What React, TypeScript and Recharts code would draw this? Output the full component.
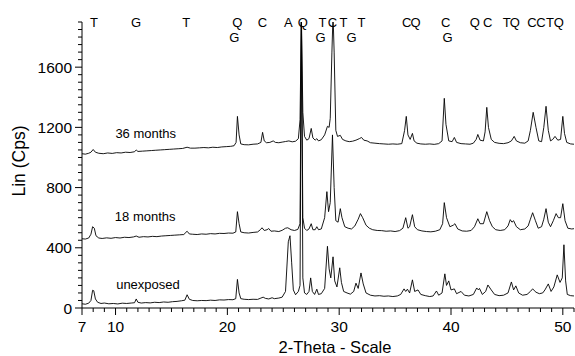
import { LineChart, Line, XAxis, YAxis, ReferenceDot } from 'recharts';

const FONT = '"Liberation Sans", Arial, Helvetica, sans-serif';
const INK = '#000';

// 2-theta (deg) vs Lin (Cps)
const unexposed: [number, number][] = [
  [7.0, 28], [7.3, 25], [7.6, 32], [7.8, 50], [7.95, 118], [8.05, 115], [8.2, 60], [8.4, 38],
  [8.7, 30], [9.0, 33], [9.4, 28], [9.8, 30], [10.2, 27], [10.6, 32], [11.0, 30], [11.4, 33],
  [11.7, 35], [11.85, 60], [12.0, 38], [12.3, 33], [12.7, 36], [13.1, 34], [13.5, 38], [13.9, 36],
  [14.3, 40], [14.7, 38], [15.1, 42], [15.5, 44], [15.9, 48], [16.2, 52], [16.4, 88], [16.6, 58],
  [16.9, 50], [17.3, 48], [17.7, 50], [18.1, 49], [18.5, 52], [18.9, 50], [19.3, 54], [19.7, 53],
  [20.1, 56], [20.5, 55], [20.75, 62], [20.9, 190], [21.05, 100], [21.2, 62], [21.5, 58], [21.9, 56],
  [22.3, 58], [22.7, 57], [23.0, 66], [23.2, 72], [23.4, 64], [23.7, 60], [24.0, 68], [24.2, 62],
  [24.6, 66], [24.9, 72], [25.2, 110], [25.45, 440], [25.6, 480], [25.75, 300], [25.9, 120], [26.1, 88],
  [26.35, 110], [26.5, 150], [26.62, 1950], [26.75, 200], [26.9, 100], [27.1, 90], [27.3, 110], [27.45, 200],
  [27.6, 110], [27.8, 90], [28.0, 125], [28.15, 90], [28.4, 95], [28.7, 130], [28.95, 410], [29.1, 260],
  [29.25, 200], [29.45, 340], [29.6, 180], [29.8, 140], [30.05, 267], [30.2, 170], [30.4, 110], [30.7, 100],
  [31.0, 92], [31.3, 110], [31.5, 165], [31.7, 130], [31.95, 233], [32.15, 160], [32.4, 100], [32.8, 85],
  [33.2, 80], [33.6, 82], [34.0, 78], [34.4, 80], [34.8, 76], [35.2, 80], [35.5, 90], [35.8, 127],
  [35.95, 110], [36.1, 125], [36.3, 100], [36.55, 187], [36.75, 110], [37.05, 120], [37.3, 90], [37.7, 82],
  [38.1, 76], [38.4, 80], [38.7, 113], [38.9, 85], [39.2, 100], [39.45, 227], [39.6, 150], [39.8, 180],
  [40.0, 120], [40.3, 127], [40.5, 95], [40.9, 110], [41.2, 85], [41.6, 80], [42.0, 90], [42.3, 133],
  [42.45, 120], [42.55, 130], [42.8, 90], [43.1, 110], [43.3, 153], [43.6, 120], [43.9, 90], [44.3, 82],
  [44.7, 85], [45.1, 100], [45.4, 173], [45.6, 120], [45.8, 147], [46.05, 100], [46.4, 85], [46.8, 90],
  [47.1, 110], [47.3, 127], [47.6, 105], [47.9, 95], [48.2, 100], [48.4, 120], [48.7, 160], [48.95, 110],
  [49.2, 140], [49.5, 220], [49.75, 170], [49.95, 200], [50.1, 420], [50.25, 180], [50.4, 90], [50.7, 82],
  [51.0, 80],
];

const months18: [number, number][] = [
  [7.0, 460], [7.3, 458], [7.6, 465], [7.8, 490], [7.95, 540], [8.1, 530], [8.25, 480], [8.5, 465],
  [8.8, 462], [9.2, 466], [9.6, 463], [10.0, 468], [10.4, 465], [10.8, 470], [11.2, 468], [11.6, 472],
  [11.85, 478], [12.1, 470], [12.5, 474], [12.9, 472], [13.3, 476], [13.7, 474], [14.1, 478], [14.5, 480],
  [14.9, 482], [15.3, 484], [15.7, 486], [16.1, 488], [16.4, 510], [16.6, 492], [16.9, 490], [17.3, 488],
  [17.7, 492], [18.1, 490], [18.5, 494], [18.9, 492], [19.3, 496], [19.7, 495], [20.1, 498], [20.5, 497],
  [20.75, 505], [20.9, 640], [21.05, 560], [21.2, 505], [21.5, 500], [21.9, 498], [22.3, 502], [22.7, 505],
  [22.95, 520], [23.1, 533], [23.3, 515], [23.55, 520], [23.7, 528], [23.9, 510], [24.2, 512], [24.6, 508],
  [24.9, 516], [25.2, 530], [25.4, 533], [25.7, 520], [26.0, 515], [26.3, 522], [26.5, 560], [26.62, 1950],
  [26.75, 600], [26.9, 530], [27.1, 515], [27.3, 525], [27.5, 560], [27.65, 520], [27.85, 520], [28.0, 540],
  [28.15, 520], [28.4, 525], [28.7, 600], [28.9, 773], [29.05, 640], [29.2, 700], [29.4, 1150], [29.55, 800],
  [29.7, 580], [29.9, 570], [30.1, 660], [30.25, 600], [30.5, 540], [30.8, 530], [31.1, 525], [31.4, 545],
  [31.7, 590], [31.9, 627], [32.1, 600], [32.4, 550], [32.7, 530], [33.0, 520], [33.4, 515], [33.8, 514],
  [34.2, 510], [34.6, 512], [35.0, 508], [35.4, 514], [35.7, 530], [35.95, 600], [36.15, 530], [36.3, 540],
  [36.55, 620], [36.75, 540], [37.0, 520], [37.4, 512], [37.8, 508], [38.2, 506], [38.6, 510], [39.0, 520],
  [39.25, 560], [39.4, 700], [39.6, 600], [39.9, 540], [40.2, 550], [40.35, 560], [40.6, 525], [41.0, 512],
  [41.4, 510], [41.8, 515], [42.1, 540], [42.4, 593], [42.6, 560], [42.9, 560], [43.2, 640], [43.45, 580],
  [43.7, 540], [44.0, 520], [44.4, 515], [44.8, 520], [45.1, 545], [45.3, 587], [45.45, 570], [45.6, 580],
  [45.85, 540], [46.2, 520], [46.6, 525], [46.9, 545], [47.1, 590], [47.3, 633], [47.55, 580], [47.8, 530],
  [48.1, 540], [48.3, 590], [48.5, 660], [48.7, 570], [48.9, 540], [49.15, 580], [49.4, 627], [49.6, 600],
  [49.8, 600], [50.0, 693], [50.2, 580], [50.45, 530], [50.8, 525], [51.0, 527],
];

const months36: [number, number][] = [
  [7.0, 1025], [7.3, 1022], [7.6, 1028], [7.8, 1035], [8.0, 1053], [8.2, 1035], [8.5, 1028], [8.9, 1025],
  [9.3, 1030], [9.7, 1027], [10.1, 1032], [10.5, 1030], [10.9, 1035], [11.3, 1033], [11.7, 1038], [11.85, 1050],
  [12.0, 1040], [12.4, 1042], [12.8, 1044], [13.2, 1046], [13.6, 1048], [14.0, 1050], [14.4, 1052], [14.8, 1054],
  [15.2, 1056], [15.6, 1058], [16.0, 1060], [16.4, 1068], [16.7, 1062], [17.1, 1062], [17.5, 1064], [17.9, 1066],
  [18.3, 1064], [18.7, 1068], [19.1, 1066], [19.5, 1070], [19.9, 1072], [20.3, 1074], [20.6, 1078], [20.78, 1100],
  [20.9, 1273], [21.05, 1150], [21.2, 1090], [21.5, 1085], [21.9, 1084], [22.3, 1088], [22.7, 1090], [23.0, 1100],
  [23.15, 1167], [23.3, 1110], [23.5, 1098], [23.8, 1100], [24.1, 1110], [24.3, 1100], [24.6, 1098], [24.9, 1102],
  [25.2, 1106], [25.5, 1110], [25.8, 1104], [26.1, 1108], [26.35, 1125], [26.5, 1250], [26.62, 1950], [26.75, 1300],
  [26.9, 1140], [27.1, 1115], [27.3, 1125], [27.5, 1193], [27.65, 1130], [27.85, 1115], [28.0, 1125], [28.15, 1110],
  [28.4, 1118], [28.7, 1150], [28.95, 1207], [29.1, 1200], [29.2, 1260], [29.35, 1700], [29.45, 1950], [29.55, 1700],
  [29.7, 1180], [29.85, 1140], [30.1, 1147], [30.3, 1120], [30.6, 1110], [30.9, 1105], [31.2, 1108], [31.5, 1115],
  [31.8, 1125], [32.0, 1133], [32.2, 1115], [32.5, 1110], [32.8, 1098], [33.2, 1095], [33.6, 1092], [34.0, 1090],
  [34.4, 1088], [34.8, 1090], [35.2, 1088], [35.6, 1092], [35.85, 1180], [36.0, 1273], [36.15, 1150], [36.35, 1120],
  [36.55, 1160], [36.7, 1110], [36.95, 1095], [37.3, 1090], [37.7, 1088], [38.1, 1090], [38.5, 1087], [38.9, 1092],
  [39.2, 1110], [39.4, 1393], [39.55, 1220], [39.8, 1110], [40.1, 1105], [40.3, 1133], [40.5, 1100], [40.9, 1092],
  [41.3, 1090], [41.7, 1088], [42.0, 1095], [42.25, 1120], [42.4, 1153], [42.6, 1115], [42.9, 1110], [43.05, 1170],
  [43.2, 1333], [43.35, 1200], [43.6, 1120], [43.9, 1100], [44.3, 1094], [44.7, 1092], [45.1, 1098], [45.4, 1110],
  [45.65, 1140], [45.85, 1110], [46.2, 1098], [46.6, 1095], [46.9, 1110], [47.1, 1180], [47.35, 1300], [47.6, 1200],
  [47.85, 1110], [48.1, 1105], [48.3, 1200], [48.5, 1340], [48.7, 1180], [48.9, 1110], [49.1, 1120], [49.3, 1140],
  [49.55, 1115], [49.8, 1120], [50.0, 1273], [50.15, 1160], [50.35, 1100], [50.7, 1090], [51.0, 1088],
];

// phase letters along the top: upper row and second row
const phaseTop: [number, string][] = [
  [8.08, 'T'], [11.84, 'G'], [16.32, 'T'], [20.89, 'Q'], [23.13, 'C'], [25.46, 'A'], [26.75, 'Q'],
  [28.51, 'T'], [29.4, 'C'], [30.39, 'T'], [32.0, 'T'], [36.03, 'C'], [36.84, 'Q'], [39.53, 'C'],
  [42.13, 'Q'], [43.29, 'C'], [44.99, 'T'], [45.71, 'Q'], [47.23, 'C'], [48.04, 'C'], [48.85, 'T'],
  [49.65, 'Q'],
];
const phaseLow: [number, string][] = [[20.62, 'G'], [28.33, 'G'], [31.1, 'G'], [39.7, 'G']];

const traceNames: [number, number, string][] = [
  [12.7, 1160, '36 months'],
  [12.65, 607, '18 months'],
  [12.9, 160, 'unexposed'],
];

const X_LABELS = [7, 10, 20, 30, 40, 50];
const X_TICKS = Array.from({ length: 45 }, (_, i) => 7 + i);
const Y_LABELS = [0, 400, 800, 1200, 1600];
const Y_TICKS = Array.from({ length: 39 }, (_, i) => i * 50);

const toPts = (a: [number, number][]) => a.map(([x, y]) => ({ x, y }));

function XTick({ x, y, payload }: any) {
  const major = X_LABELS.includes(payload.value);
  return (
    <g>
      <line x1={x} x2={x} y1={y} y2={y + (major ? 7 : 4)} stroke={INK} strokeWidth={1} />
      {major && (
        <text x={x} y={y + 18} textAnchor="middle" dominantBaseline="central" fontSize={15.5} fill={INK}>
          {payload.value}
        </text>
      )}
    </g>
  );
}

function YTick({ x, y, payload }: any) {
  const major = Y_LABELS.includes(payload.value);
  return (
    <g>
      <line x1={x - (major ? 7 : 4)} x2={x} y1={y} y2={y} stroke={INK} strokeWidth={1} />
      {major && (
        <text x={x - 10} y={y} textAnchor="end" dominantBaseline="central" fontSize={15.5} fill={INK}>
          {payload.value}
        </text>
      )}
    </g>
  );
}

const yTitle = ({ viewBox }: any) => {
  const cx = viewBox.x - 1;
  const cy = viewBox.y + viewBox.height / 2 - 4;
  return (
    <text x={cx} y={cy} transform={`rotate(-90 ${cx} ${cy})`} textAnchor="middle"
      dominantBaseline="central" fontSize={17.5} fill={INK}>
      Lin (Cps)
    </text>
  );
};

const xTitle = ({ viewBox }: any) => (
  <text x={viewBox.x + viewBox.width / 2 + 7} y={viewBox.y + viewBox.height + 9} textAnchor="middle"
    dominantBaseline="central" fontSize={16.5} fill={INK}>
    2-Theta - Scale
  </text>
);

export default function App() {
  const series = [unexposed, months18, months36];
  return (
    <div style={{ position: 'absolute', left: 0, top: 0, width: 575, height: 356, background: '#fff' }}>
      <LineChart width={575} height={356} margin={{ top: 22, right: 1, bottom: 18, left: 20 }}
        style={{ fontFamily: FONT }}>
        <XAxis type="number" dataKey="x" domain={[7, 51]} ticks={X_TICKS} interval={0}
          allowDataOverflow height={30} tickSize={0} tickMargin={0} tickLine={false}
          axisLine={{ stroke: INK }} tick={(p: any) => <XTick {...p} />} label={xTitle} />
        <YAxis type="number" domain={[0, 1900]} ticks={Y_TICKS} interval={0}
          allowDataOverflow width={62} tickSize={0} tickMargin={0} tickLine={false}
          axisLine={{ stroke: INK }} tick={(p: any) => <YTick {...p} />} label={yTitle} />
        {series.map((s, i) => (
          <Line key={i} data={toPts(s)} dataKey="y" type="linear" dot={false} activeDot={false}
            stroke={INK} strokeWidth={0.9} isAnimationActive={false} />
        ))}
        {phaseTop.map(([t, s], i) => (
          <ReferenceDot key={'t' + i} x={t} y={1900} r={0} fill="none" stroke="none"
            label={{ value: s, position: 'center', fontSize: 13, fill: INK }} />
        ))}
        {phaseLow.map(([t, s], i) => (
          <ReferenceDot key={'l' + i} x={t} y={1800} r={0} fill="none" stroke="none"
            label={{ value: s, position: 'center', fontSize: 13, fill: INK }} />
        ))}
        {traceNames.map(([t, v, s], i) => (
          <ReferenceDot key={'n' + i} x={t} y={v} r={0} fill="none" stroke="none"
            label={{ value: s, position: 'center', fontSize: 13, fill: INK }} />
        ))}
      </LineChart>
    </div>
  );
}
